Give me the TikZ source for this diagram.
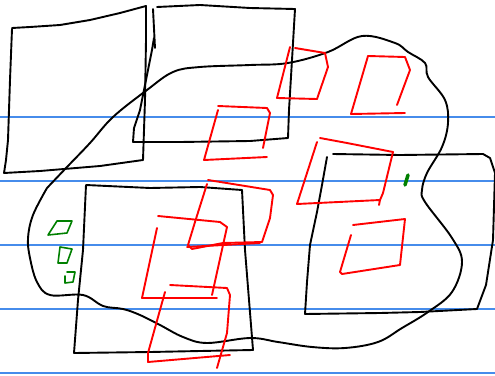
\documentclass[tikz,border=0pt]{standalone}
\definecolor{ruleblue}{RGB}{70,140,235}
\definecolor{penred}{RGB}{255,0,0}
\definecolor{pengreen}{RGB}{0,128,0}
\begin{document}
\begin{tikzpicture}[x=1pt,y=-1pt,
  rule/.style={draw=ruleblue,line width=1.1pt},
  ink/.style={draw=black,line width=1.9pt,line join=round,line cap=round},
  rink/.style={draw=penred,line width=1.9pt,line join=round,line cap=round},
  gink/.style={draw=pengreen,line width=1.6pt,line join=round,line cap=round}]
\useasboundingbox[fill=white] (0,0) rectangle (495,375);
% ruled lines
\foreach \yy in {117,181,245,309,373} \draw[rule] (0,\yy) -- (495,\yy);
% top-left box
\draw[ink] (12,29) -- (10,80) -- (8,140) -- (6,160) -- (4,173) -- (40,171) -- (100,166) -- (143,160)
  -- (145,100) -- (146,40) -- (146,6) -- (120,13) -- (90,20) -- (60,25) -- (30,27) -- (12,28);
% top-middle box
\draw[ink] (154,38) -- (152,50) -- (146,80) -- (140,110) -- (134,128) -- (133,142) -- (180,142) -- (250,141) -- (288,138)
  -- (289,110) -- (292,60) -- (295,9) -- (250,8) -- (200,5) -- (157,7);
\draw[ink] (153,9) -- (155,48);
% big blob
\draw[ink] plot[smooth,tension=0.6] coordinates {(47,188) (67,167) (90,143) (113,117) (147,90) (173,72) (200,67) (250,65)
  (288,63) (328,52) (362,36) (395,43) (408,52) (425,63) (428,77) (445,100) (448,123) (442,147) (427,173) (422,190)
  (425,202) (452,238) (462,262) (452,292) (428,312) (402,328) (378,342) (345,348) (312,347) (278,342) (250,338)
  (207,343) (183,337) (160,325) (140,315) (123,309) (103,306) (83,295) (50,295) (37,282) (30,258) (28,238) (33,215) (47,188)};
% bottom-left box
\draw[ink] (86,185) -- (150,188) -- (200,187) -- (242,190) -- (245,250) -- (249,300) -- (253,350)
  -- (200,351) -- (150,352) -- (74,353) -- (78,300) -- (83,250) -- (86,185);
% right box
\draw[ink] (333,154) -- (400,155) -- (483,154) -- (490,158) -- (495,173) -- (493,240) -- (486,285) -- (477,309)
  -- (420,312) -- (380,313) -- (305,314) -- (307,282) -- (310,245) -- (317,212) -- (322,185) -- (327,157);
% red squares
\draw[rink] (290,47) -- (277,98) -- (317,99);
\draw[rink] (295,48) -- (325,53) -- (328,67) -- (317,99);
\draw[rink] (368,56) -- (351,114) -- (405,113);
\draw[rink] (368,56) -- (405,57) -- (410,70) -- (397,105);
\draw[rink] (218,110) -- (204,160) -- (267,157);
\draw[rink] (218,106) -- (267,108) -- (270,113) -- (263,148);
\draw[rink] (208,180) -- (270,190) -- (273,195) -- (270,218) -- (262,242) -- (223,243) -- (192,249) -- (188,245) -- (195,222) -- (207,184);
\draw[rink] (187,247) -- (260,243);
\draw[rink] (158,216) -- (220,222) -- (227,227) -- (212,295);
\draw[rink] (157,228) -- (142,298) -- (217,298);
\draw[rink] (170,285) -- (227,288) -- (230,295) -- (227,333) -- (217,368);
\draw[rink] (165,292) -- (148,353) -- (148,362) -- (230,355);
\draw[rink] (317,142) -- (297,204) -- (380,200) -- (379,205);
\draw[rink] (320,138) -- (347,143) -- (393,152) -- (383,193) -- (380,200);
\draw[rink] (353,225) -- (405,219) -- (400,265) -- (342,274) -- (340,272) -- (351,235);
% green marks
\draw[gink] (57,221) -- (72,221) -- (67,233) -- (48,235) -- cycle;
\draw[gink] (60,247) -- (72,249) -- (67,263) -- (58,263) -- cycle;
\draw[gink] (67,272) -- (75,272) -- (73,282) -- (65,283) -- (65,276);
\draw[gink,line width=3.5pt] (408,175) -- (405,185);
\end{tikzpicture}
\end{document}
